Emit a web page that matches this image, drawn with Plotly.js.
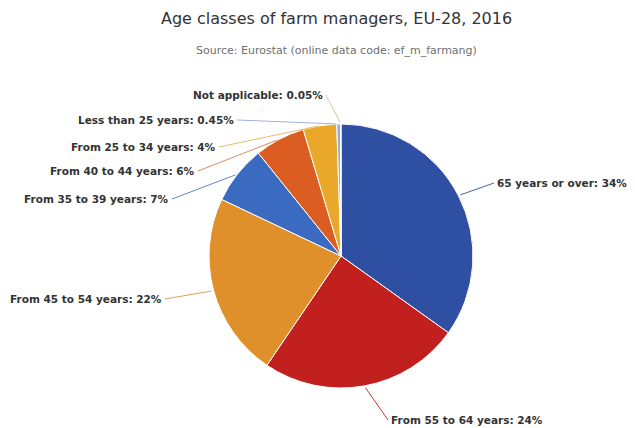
<!DOCTYPE html>
<html>
<head>
<meta charset="utf-8">
<script src="https://cdn.plot.ly/plotly-3.0.1.min.js"></script>
<style>html,body{margin:0;padding:0;background:#fff;}#chart{width:635px;height:428px;}</style>
</head>
<body>
<div id="chart"></div>
<script>
const categories = ["65 years or over", "From 55 to 64 years", "From 45 to 54 years", "From 35 to 39 years", "From 40 to 44 years", "From 25 to 34 years", "Less than 25 years", "Not applicable"];
const values = [34, 24, 22, 7, 6, 4, 0.45, 0.05];
const valueLabels = ["34%", "24%", "22%", "7%", "6%", "4%", "0.45%", "0.05%"];

// styling / layout (not data)
const colors = ["#2f4fa2", "#c2201f", "#e0902b", "#3b6bc0", "#dc5d22", "#eaa82b", "#8fb0dd", "#d8c7a4"];
const lineColors = ["#4a64a8", "#c0392b", "#d9a35a", "#5f86c8", "#e08a5a", "#e8bc6a", "#9db5d8", "#d8c7a4"];
// label anchor points in pixels [x, y, side]
const labelPos = [[494, 183, "left"], [388, 420, "left"], [165, 299, "right"], [172, 199, "right"], [198, 171, "right"], [219, 147, "right"], [237, 120, "right"], [326, 95, "right"]];

const W = 635, H = 428;
const M = {l: 47, r: 0, t: 124, b: 40};
const plotW = W - M.l - M.r, plotH = H - M.t - M.b;
const cx = M.l + plotW / 2, cy = M.t + plotH / 2;
const R = Math.min(plotW, plotH) / 2;

const total = values.reduce((a, b) => a + b, 0);
const annotations = [];
let cum = 0;
values.forEach((v, i) => {
  const mid = (cum + v / 2) / total * 2 * Math.PI;
  cum += v;
  const tx = cx + R * Math.sin(mid), ty = cy - R * Math.cos(mid);
  const [lx, ly, side] = labelPos[i];
  annotations.push({
    xref: "paper", yref: "paper",
    x: (tx - M.l) / plotW, y: (H - M.b - ty) / plotH,
    ax: lx - tx, ay: ly - ty,
    text: categories[i] + ": " + valueLabels[i],
    showarrow: true, arrowhead: 0, arrowwidth: 1, arrowcolor: lineColors[i], standoff: 2,
    xanchor: side, yanchor: "middle", borderpad: 2,
    font: {family: "DejaVu Sans", size: 10.5, color: "#333333", weight: "bold"}
  });
});

annotations.push({
  text: "Source: Eurostat (online data code: ef_m_farmang)",
  xref: "paper", yref: "paper", x: (336 - M.l) / plotW, y: (H - M.b - 50) / plotH,
  xanchor: "center", yanchor: "middle", showarrow: false,
  font: {family: "DejaVu Sans", size: 11, color: "#707070"}
});

const trace = {
  type: "pie",
  labels: categories,
  values: values,
  text: valueLabels,
  sort: false,
  direction: "clockwise",
  rotation: 0,
  marker: {colors: colors, line: {color: "#ffffff", width: 1}},
  textinfo: "none",
  automargin: false,
  showlegend: false,
  hoverinfo: "label+text"
};

const layout = {
  width: W, height: H,
  margin: M,
  paper_bgcolor: "#ffffff",
  title: {text: "Age classes of farm managers, EU-28, 2016", font: {family: "DejaVu Sans", size: 16, color: "#333333"}, x: 0.53, xanchor: "center", y: 0.957, yanchor: "middle"},
  annotations: annotations
};

Plotly.newPlot("chart", [trace], layout, {displayModeBar: false, staticPlot: true});
</script>
</body>
</html>
